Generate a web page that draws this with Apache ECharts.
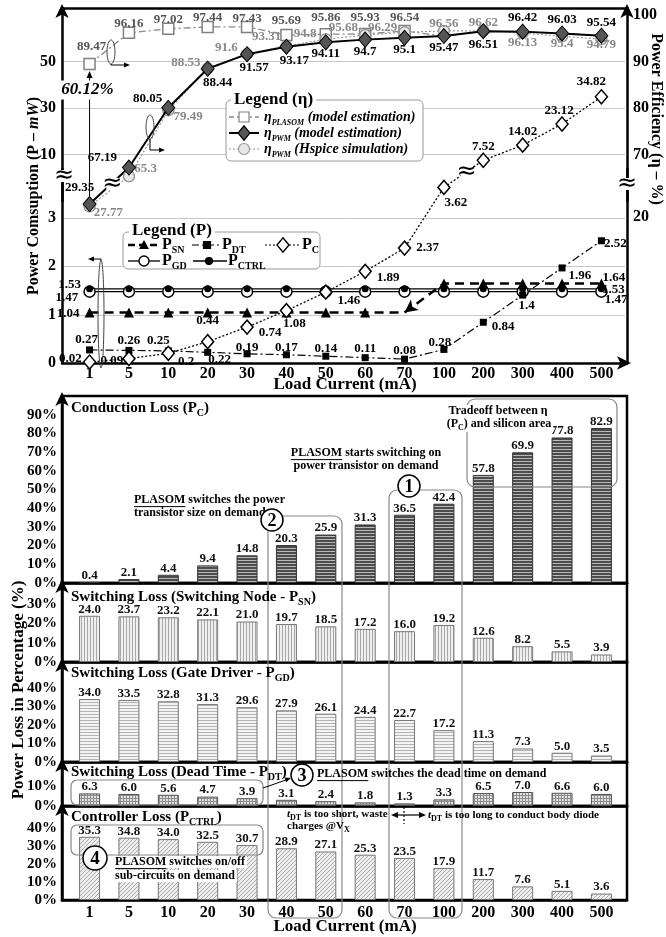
<!DOCTYPE html>
<html>
<head>
<meta charset="utf-8">
<script src="https://cdn.jsdelivr.net/npm/echarts@6/dist/echarts.min.js"></script>
<style>
  html, body { margin: 0; padding: 0; background: #fff; }
  #chart { width: 666px; height: 937px; }
</style>
</head>
<body>
<div id="chart"></div>
<script>
// ---------- data ----------
const loadCurrent = ['1', '5', '10', '20', '30', '40', '50', '60', '70', '100', '200', '300', '400', '500'];

// power consumption per block (mW)
const pSN   = [1.04, 1.04, 1.04, 1.04, 1.04, 1.04, 1.04, 1.04, 1.04, 1.64, 1.64, 1.64, 1.64, 1.64];
const pDT   = [0.27, 0.26, 0.25, 0.22, 0.19, 0.17, 0.14, 0.11, 0.08, 0.28, 0.84, 1.4, 1.96, 2.52];
const pC    = [0.02, 0.09, 0.2, 0.44, 0.74, 1.08, 1.46, 1.89, 2.37, 3.62, 7.52, 14.02, 23.12, 34.82];
const pGD   = [1.47, 1.47, 1.47, 1.47, 1.47, 1.47, 1.47, 1.47, 1.47, 1.47, 1.47, 1.47, 1.47, 1.47];
const pCTRL = [1.53, 1.53, 1.53, 1.53, 1.53, 1.53, 1.53, 1.53, 1.53, 1.53, 1.53, 1.53, 1.53, 1.53];

// power efficiency (%)
const etaPlasom = [89.47, 96.16, 97.02, 97.44, 97.43, 95.69, 95.86, 95.93, 96.54, 95.47, 96.51, 96.42, 96.03, 95.54];
const etaPwm    = [29.35, 67.19, 80.05, 88.44, 91.57, 93.17, 94.11, 94.7, 95.1, 95.47, 96.51, 96.42, 96.03, 95.54];
const etaHspice = [27.77, 65.3, 79.49, 88.53, 91.6, 93.31, 94.8, 95.68, 96.29, 96.56, 96.62, 96.13, 95.4, 94.79];
const plasomOwnPoints = 9; // above 70 mA PLASOM runs the PWM path

// power loss breakdown (%)
const lossPC   = [0.4, 2.1, 4.4, 9.4, 14.8, 20.3, 25.9, 31.3, 36.5, 42.4, 57.8, 69.9, 77.8, 82.9];
const lossSN   = [24.0, 23.7, 23.2, 22.1, 21.0, 19.7, 18.5, 17.2, 16.0, 19.2, 12.6, 8.2, 5.5, 3.9];
const lossGD   = [34.0, 33.5, 32.8, 31.3, 29.6, 27.9, 26.1, 24.4, 22.7, 17.2, 11.3, 7.3, 5.0, 3.5];
const lossDT   = [6.3, 6.0, 5.6, 4.7, 3.9, 3.1, 2.4, 1.8, 1.3, 3.3, 6.5, 7.0, 6.6, 6.0];
const lossCTRL = [35.3, 34.8, 34.0, 32.5, 30.7, 28.9, 27.1, 25.3, 23.5, 17.9, 11.7, 7.6, 5.1, 3.6];

// tick labels
const pLowTicks = [0, 1, 2, 3];
const pHighTicks = [10, 30, 50];
const etaHighTicks = [70, 80, 90, 100];
const etaLowTicks = [20];

// ---------- layout / style ----------
const FONT = '"Liberation Serif", "Times New Roman", serif';
const P_BREAK = 4;     // P values at or above this go to the upper (compressed) region
const ETA_BREAK = 60;  // efficiency values below this go to the lower region
const X_MIN = -0.7, X_MAX = 13.65;
const idx = loadCurrent.map((_, i) => i);

// upper region geometry: P (mW) and eta (%) share pixels, P = 10 + 2 * (eta - 70)
const UP_TOP = 8, UP_H = 193;
const UP_P_MIN = -10, UP_P_MAX = 73;
const UP_ETA_MIN = 60, UP_ETA_MAX = 101.5;
const LOW_TOP = 169, LOW_H = 194;

// label placement per point: [position, dx, dy]
const labelAt = {
  pSN:   {0: ['left', 0, 1], 13: ['right', -9, -6]},
  pCTRL: {0: ['left', 0, -4], 13: ['right', -8, 1]},
  pGD:   {0: ['left', 0, 6], 13: ['right', -8, 8]},
  pDT:   {0: ['top', -3, 5], 1: ['top', 0, 5], 2: ['top', -10, 5], 3: ['bottom', 12, -8], 4: ['top', 0, 9],
          5: ['top', 0, 8], 6: ['top', 0, 7], 7: ['top', 0, 6], 8: ['top', 0, 7], 9: ['top', -4, 8],
          10: ['right', 0, 4], 11: ['bottom', 4, -4], 12: ['right', -2, 8], 13: ['right', -6, 3]},
  pC:    {0: ['left', 4, -3], 1: ['left', 6, 2], 2: ['right', -2, 8], 3: ['top', 0, -2], 4: ['right', 0, 6],
          5: ['bottom', 8, -6], 6: ['right', 0, 8], 7: ['right', 0, 6], 8: ['right', 0, 0], 9: ['bottom', 12, -4],
          10: ['top', 0, 6], 11: ['top', 0, 6], 12: ['top', -3, 6], 13: ['top', -10, 4]},
  etaPwm: {0: ['top', -10, 3], 1: ['left', 0, -10], 2: ['left', 6, -9], 3: ['bottom', 10, -6], 4: ['bottom', 7, -6],
           5: ['bottom', 8, -6], 6: ['bottom', 0, -8], 7: ['bottom', 0, -8], 8: ['bottom', 0, -8], 9: ['bottom', 0, -8],
           10: ['bottom', 0, -6], 11: ['top', 0, 6], 12: ['top', 0, 6], 13: ['top', 0, 6]},
  etaHspice: {0: ['right', -7, 6], 1: ['right', -6, -8], 2: ['right', -6, 6], 3: ['left', 4, -6], 4: ['left', 2, -6],
              5: ['left', 6, -9], 6: ['left', 2, -6], 7: ['left', 4, -7], 8: ['left', 4, -5], 9: ['top', 0, 10],
              10: ['top', 0, 10], 11: ['bottom', 0, -8], 12: ['bottom', 0, -10], 13: ['bottom', 0, -12]},
  etaPlasom: {0: ['top', 2, 0], 1: ['top', 0, 9], 2: ['top', 0, 9], 3: ['top', 0, 9], 4: ['top', 0, 9],
              5: ['top', 0, 3], 6: ['top', 0, 1], 7: ['top', 0, 1], 8: ['top', 0, 4]}
};

function pattern(w, h, bg, draw) {
  const c = document.createElement('canvas');
  c.width = w; c.height = h;
  const g = c.getContext('2d');
  g.fillStyle = bg; g.fillRect(0, 0, w, h);
  draw(g);
  return { image: c, repeat: 'repeat' };
}
const fillPC   = pattern(4, 3, '#4c4c4c', g => { g.fillStyle = '#b8b8b8'; g.fillRect(0, 2, 4, 1); });
const fillSN   = pattern(3, 4, '#efefef', g => { g.fillStyle = '#a8a8a8'; g.fillRect(0, 0, 1, 4); });
const fillGD   = pattern(4, 3, '#f3f3f3', g => { g.fillStyle = '#b4b4b4'; g.fillRect(0, 0, 4, 1); });
const fillDT   = pattern(3, 3, '#e2e2e2', g => { g.fillStyle = '#8e8e8e'; g.fillRect(0, 0, 3, 1); g.fillRect(0, 0, 1, 3); });
const fillCTRL = pattern(4, 4, '#eeeeee', g => { g.fillStyle = '#ababab'; for (let i = 0; i < 4; i++) g.fillRect(3 - i, i, 1, 1); });

const lossPanels = [
  { data: lossPC,   max: 100,  ticks: [0, 10, 20, 30, 40, 50, 60, 70, 80, 90], fill: fillPC,   border: '#333', top: 396, height: 187 },
  { data: lossSN,   max: 41,   ticks: [0, 10, 20, 30],         fill: fillSN,   border: '#777', top: 583, height: 79 },
  { data: lossGD,   max: 54,   ticks: [0, 10, 20, 30, 40],     fill: fillGD,   border: '#777', top: 662, height: 100 },
  { data: lossDT,   max: 22,   ticks: [0, 10],                 fill: fillDT,   border: '#555', top: 762, height: 44 },
  { data: lossCTRL, max: 52.5, ticks: [0, 10, 20, 30, 40],     fill: fillCTRL, border: '#777', top: 806, height: 94 }
];

const tickFont = { fontFamily: FONT, fontWeight: 'bold', fontSize: 16, color: '#000' };
const arrowLine = (w) => ({ show: true, onZero: false, lineStyle: { color: '#000', width: w },
  symbol: ['none', 'arrow'], symbolSize: [10, 14], symbolOffset: [0, 4] });

// ---------- axes ----------
const xAxes = [];
const yAxes = [];
const grids = [];

function xAxisFor(gridIndex, extra) {
  return Object.assign({
    type: 'value', gridIndex, min: X_MIN, max: X_MAX,
    splitLine: { show: false }, axisTick: { show: false }, axisLabel: { show: false },
    axisLine: { show: true, onZero: false, lineStyle: { color: '#000', width: 2.5 } }
  }, extra || {});
}
function yAxisFor(gridIndex, position, min, max, interval, labels, extra) {
  const ax = {
    type: 'value', gridIndex, position, min, max,
    axisTick: { show: false },
    axisLabel: Object.assign({ customValues: labels, margin: 6 }, tickFont),
    axisLine: { show: true, onZero: false, lineStyle: { color: '#000', width: 2.5 } },
    splitLine: { show: false }
  };
  if (interval) ax.interval = interval;
  return Object.assign(ax, extra || {});
}

// top chart: upper (compressed) region and lower region
grids.push({ left: 62, right: 39, top: UP_TOP, height: UP_H, outerBoundsMode: 'none' });
grids.push({ left: 62, right: 39, top: LOW_TOP, height: LOW_H, outerBoundsMode: 'none' });
xAxes.push(xAxisFor(0, { position: 'top' }));
xAxes.push(xAxisFor(1, {
  position: 'bottom',
  axisLabel: Object.assign({ show: true, customValues: idx, margin: 3, formatter: v => loadCurrent[Math.round(v)] }, tickFont),
  axisLine: arrowLine(2.5)
}));
yAxes.push(yAxisFor(0, 'left', UP_P_MIN, UP_P_MAX, 20, pHighTicks, { axisLine: arrowLine(2.5) }));          // 0 P upper
yAxes.push(yAxisFor(0, 'right', UP_ETA_MIN, UP_ETA_MAX, 10, etaHighTicks, { axisLine: arrowLine(2.5) }));   // 1 eta upper
yAxes.push(yAxisFor(1, 'left', 0, 4, 1, pLowTicks, {}));                                                    // 2 P lower
yAxes.push(yAxisFor(1, 'right', -85, 54.6, 0, etaLowTicks, {}));                                            // 3 eta lower

// loss panels
const lossAxisStart = xAxes.length;
const lossYAxisStart = yAxes.length;
lossPanels.forEach((p, k) => {
  const gi = grids.length;
  grids.push({ left: 62, right: 39, top: p.top, height: p.height, outerBoundsMode: 'none',
    show: true, borderColor: '#000', borderWidth: 2.5, backgroundColor: 'transparent' });
  const last = k === lossPanels.length - 1;
  xAxes.push(xAxisFor(gi, last ? {
    axisLabel: Object.assign({ show: true, customValues: idx, margin: 5, formatter: v => loadCurrent[Math.round(v)] }, tickFont)
  } : {}));
  yAxes.push(yAxisFor(gi, 'left', 0, p.max, 10, p.ticks, {
    axisLabel: Object.assign({ customValues: p.ticks, margin: 5, formatter: v => v + '%' }, tickFont, { fontSize: 15 }),
    axisLine: arrowLine(2.5)
  }));
});

// ---------- series ----------
function lineSeries(values, keep, xi, yi, cfg) {
  const labels = cfg.labels || {};
  const data = [];
  values.forEach((v, i) => {
    if (v == null || !keep(v)) return;
    const item = { value: [i, v] };
    const spec = labels[i];
    if (spec && (cfg.labelUntil == null || i < cfg.labelUntil)) {
      item.label = { show: true, position: spec[0], offset: [spec[1], spec[2]], formatter: String(v) };
    }
    if (cfg.symbolUntil != null && i >= cfg.symbolUntil) item.symbol = 'none';
    if (cfg.itemOverride && cfg.itemOverride[i]) Object.assign(item, cfg.itemOverride[i]);
    data.push(item);
  });
  return {
    type: 'line', xAxisIndex: xi, yAxisIndex: yi, silent: true, animation: false, z: cfg.z || 2,
    symbol: cfg.symbol, symbolSize: cfg.symbolSize, showSymbol: true,
    itemStyle: cfg.itemStyle, lineStyle: cfg.lineStyle,
    label: { show: false, fontFamily: FONT, fontWeight: 'bold', fontSize: 13, color: cfg.labelColor || '#000' },
    emphasis: { disabled: true },
    data
  };
}
const below = lim => v => v < lim;
const atOrAbove = lim => v => v >= lim;

const styles = {
  pSN:   { symbol: 'triangle', symbolSize: 10, itemStyle: { color: '#000' }, lineStyle: { color: '#000', width: 2.5, type: [9, 6] } },
  pDT:   { symbol: 'rect', symbolSize: 7, itemStyle: { color: '#000' }, lineStyle: { color: '#000', width: 1.2, type: [8, 3, 2, 3] } },
  pC:    { symbol: 'diamond', symbolSize: [12, 14], itemStyle: { color: '#fff', borderColor: '#000', borderWidth: 1.5 }, lineStyle: { color: '#000', width: 1.3, type: [2, 2] }, z: 4 },
  pGD:   { symbol: 'circle', symbolSize: 11, itemStyle: { color: '#fff', borderColor: '#000', borderWidth: 1.5 }, lineStyle: { color: '#000', width: 1.3, type: 'solid' } },
  pCTRL: { symbol: 'circle', symbolSize: 7, itemStyle: { color: '#000' }, lineStyle: { color: '#000', width: 1.3, type: 'solid' } },
  plasom: { symbol: 'rect', symbolSize: 11, itemStyle: { color: '#fff', borderColor: '#808080', borderWidth: 1.5 }, lineStyle: { color: '#8a8a8a', width: 1.3, type: [7, 3, 2, 3] }, labelColor: '#555', z: 2 },
  pwm:   { symbol: 'diamond', symbolSize: [13, 15], itemStyle: { color: '#555', borderColor: '#000', borderWidth: 1 }, lineStyle: { color: '#000', width: 2, type: 'solid' }, z: 5 },
  hspice: { symbol: 'circle', symbolSize: 11, itemStyle: { color: '#e8e8e8', borderColor: '#999', borderWidth: 1.5 }, lineStyle: { color: '#9a9a9a', width: 1.2, type: [2, 2] }, labelColor: '#888', z: 3 }
};
const withLabels = (s, l, extra) => Object.assign({}, s, { labels: l }, extra || {});

const series = [
  // lower region (mW, eta below the break)
  lineSeries(pGD, below(P_BREAK), 1, 2, withLabels(styles.pGD, labelAt.pGD)),
  lineSeries(pCTRL, below(P_BREAK), 1, 2, withLabels(styles.pCTRL, labelAt.pCTRL)),
  lineSeries(pSN, below(P_BREAK), 1, 2, withLabels(styles.pSN, labelAt.pSN, {
    itemOverride: { 8: { symbol: 'arrow', symbolRotate: 127, symbolSize: [10, 13] } }
  })),
  lineSeries(pDT, below(P_BREAK), 1, 2, withLabels(styles.pDT, labelAt.pDT)),
  lineSeries(pC, below(P_BREAK), 1, 2, withLabels(styles.pC, labelAt.pC)),
  lineSeries(etaHspice, below(ETA_BREAK), 1, 3, withLabels(styles.hspice, labelAt.etaHspice)),
  lineSeries(etaPwm, below(ETA_BREAK), 1, 3, withLabels(styles.pwm, labelAt.etaPwm)),
  // upper region
  lineSeries(pC, atOrAbove(P_BREAK), 0, 0, withLabels(styles.pC, labelAt.pC)),
  lineSeries(etaPlasom, atOrAbove(ETA_BREAK), 0, 1, withLabels(styles.plasom, labelAt.etaPlasom, {
    symbolUntil: plasomOwnPoints, labelUntil: plasomOwnPoints
  })),
  lineSeries(etaHspice, atOrAbove(ETA_BREAK), 0, 1, withLabels(styles.hspice, labelAt.etaHspice)),
  lineSeries(etaPwm, atOrAbove(ETA_BREAK), 0, 1, withLabels(styles.pwm, labelAt.etaPwm))
];

lossPanels.forEach((p, k) => {
  series.push({
    type: 'bar', xAxisIndex: lossAxisStart + k, yAxisIndex: lossYAxisStart + k, silent: true, animation: false,
    barWidth: 21,
    itemStyle: { color: p.fill, borderColor: p.border, borderWidth: 1 },
    label: { show: true, position: 'top', distance: 0, fontFamily: FONT, fontWeight: 'bold', fontSize: 13, color: '#111',
      formatter: q => q.value[1].toFixed(1) },
    emphasis: { disabled: true },
    data: p.data.map((v, i) => [i, v])
  });
});

const chart = echarts.init(document.getElementById('chart'), null, { renderer: 'canvas' });
chart.setOption({
  animation: false,
  backgroundColor: '#fff',
  grid: grids, xAxis: xAxes, yAxis: yAxes, series
});

// ---------- annotations ----------
const measure = (() => {
  const ctx = document.createElement('canvas').getContext('2d');
  return (text, size, style) => { ctx.font = (style || '') + ' bold ' + size + 'px ' + FONT; return ctx.measureText(text).width; };
})();

const G = [];
function text(x, y, str, o) {
  o = o || {};
  const st = {
    text: str, x: 0, y: 0, fill: o.color || '#000',
    fontFamily: FONT, fontWeight: 'bold', fontSize: o.size || 13, fontStyle: o.italic ? 'italic' : 'normal',
    align: o.align || 'left', textAlign: o.align || 'left',
    verticalAlign: 'middle', textVerticalAlign: 'middle'
  };
  if (o.rich) st.rich = o.rich;
  if (o.bg) { st.backgroundColor = o.bg; st.padding = o.pad || [0, 2]; }
  G.push({ type: 'text', x, y, rotation: o.rotation || 0, z: o.z || 100, silent: true, style: st });
}
function line(x1, y1, x2, y2, o) {
  o = o || {};
  G.push({ type: 'line', z: o.z != null ? o.z : 99, silent: true, shape: { x1, y1, x2, y2 },
    style: { stroke: o.color || '#000', lineWidth: o.width || 1, lineDash: o.dash || null } });
}
function poly(points, o) {
  o = o || {};
  const open = o.closed === false;
  G.push({ type: open ? 'polyline' : 'polygon', z: o.z || 99, silent: true, shape: { points },
    style: { fill: open ? null : (o.fill || '#000'), stroke: o.stroke || (open ? '#000' : null), lineWidth: o.width || 1, lineDash: o.dash || null } });
}
function arrowHead(x, y, ang, len, wid, color) {
  len = len || 7; wid = wid || 6;
  const c = Math.cos(ang), s = Math.sin(ang);
  poly([[x, y], [x - len * c + wid / 2 * s, y - len * s - wid / 2 * c], [x - len * c - wid / 2 * s, y - len * s + wid / 2 * c]], { fill: color || '#000', z: 101 });
}
function rrect(x, y, w, h, r, o) {
  o = o || {};
  G.push({ type: 'rect', z: o.z || 98, silent: true, shape: { x, y, width: w, height: h, r },
    style: { fill: o.fill || null, stroke: o.stroke || '#888', lineWidth: o.width || 1.2 } });
}
function circle(cx, cy, r, o) {
  o = o || {};
  G.push({ type: 'circle', z: o.z || 100, silent: true, shape: { cx, cy, r },
    style: { fill: o.fill || '#fff', stroke: o.stroke || '#000', lineWidth: o.width || 1.5 } });
}
function ellipse(cx, cy, rx, ry) {
  G.push({ type: 'ellipse', z: 99, silent: true, shape: { cx, cy, rx, ry }, style: { fill: null, stroke: '#444', lineWidth: 1 } });
}
function breakMark(x, y) {
  G.push({ type: 'rect', z: 102, silent: true, shape: { x: x - 6, y: y - 6, width: 12, height: 12 }, style: { fill: '#fff' } });
  G.push({ type: 'text', x, y, z: 103, silent: true, style: { text: '≈', x: 0, y: 0, fill: '#000', fontFamily: 'DejaVu Sans', fontSize: 24,
    align: 'center', textAlign: 'center', verticalAlign: 'middle', textVerticalAlign: 'middle' } });
}
function underlineWord(x, y, word, size) {
  line(x, y + size * 0.55, x + measure(word, size), y + size * 0.55, { width: 1, z: 102 });
}
function plasomText(x, y, rest, size, align, bg) {
  const full = 'PLASOM' + rest;
  const w = measure(full, size);
  const left = align === 'center' ? x - w / 2 : x;
  text(left, y, full, { size, bg });
  underlineWord(left + (bg ? 2 : 0), y, 'PLASOM', size);
}
function symbolAt(kind, x, y, o) {
  o = o || {};
  const r = o.r || 5;
  if (kind === 'rect') poly([[x - r, y - r], [x + r, y - r], [x + r, y + r], [x - r, y + r]], { fill: o.fill, stroke: o.stroke, width: o.width || 1.2, z: 101 });
  if (kind === 'diamond') poly([[x, y - r * 1.2], [x + r, y], [x, y + r * 1.2], [x - r, y]], { fill: o.fill, stroke: o.stroke, width: o.width || 1.2, z: 101 });
  if (kind === 'triangle') poly([[x, y - r], [x + r, y + r * 0.8], [x - r, y + r * 0.8]], { fill: o.fill, z: 101 });
  if (kind === 'circle') circle(x, y, r, { fill: o.fill, stroke: o.stroke, width: o.width || 1.2, z: 101 });
}

// guide lines at the labelled P levels, placed through the axes' own scales
function guides(xi, yi, values) {
  values.forEach(v => {
    const a = chart.convertToPixel({ xAxisIndex: xi, yAxisIndex: yi }, [X_MIN, v]);
    const b = chart.convertToPixel({ xAxisIndex: xi, yAxisIndex: yi }, [X_MAX, v]);
    if (a && b) line(a[0] + 2, Math.round(a[1]) + 0.5, b[0] - 2, Math.round(b[1]) + 0.5, { color: '#c8c8c8', width: 1, z: 0 });
  });
}
guides(0, 0, pHighTicks);
guides(1, 2, pLowTicks.filter(v => v > 0));

const sub = size => ({ fontFamily: FONT, fontWeight: 'bold', fontSize: size, lineHeight: 10, verticalAlign: 'bottom' });
const richP = {
  b: { fontFamily: FONT, fontWeight: 'bold', fontSize: 16, lineHeight: 20 },
  s: sub(10)
};
const richEta = {
  i: { fontFamily: FONT, fontWeight: 'bold', fontStyle: 'italic', fontSize: 14, lineHeight: 20 },
  s: Object.assign(sub(8), { fontStyle: 'italic' })
};

// axis names
text(34, 196, '{b|Power Comsuption (P – }{i|mW}{b|)}', { rotation: Math.PI / 2, align: 'center',
  rich: { b: { fontFamily: FONT, fontWeight: 'bold', fontSize: 16 }, i: { fontFamily: FONT, fontWeight: 'bold', fontStyle: 'italic', fontSize: 16 } } });
text(656, 119, 'Power Efficiency (η – %)', { size: 16, rotation: -Math.PI / 2, align: 'center' });
text(345, 385, 'Load Current (mA)', { size: 17, align: 'center' });
text(19, 690, 'Power Loss in Percentage (%)', { size: 17, rotation: Math.PI / 2, align: 'center' });
text(345, 927, 'Load Current (mA)', { size: 17, align: 'center' });

// broken-axis marks
breakMark(64, 176);
breakMark(627, 184);

// legend (eta)
rrect(226, 100, 197, 61, 5, { stroke: '#9a9a9a', width: 1, fill: '#fff', z: 95 });
text(231, 100, 'Legend (η)', { size: 17, bg: '#fff', pad: [0, 3] });
line(229, 117, 259, 117, { color: '#8a8a8a', width: 1.3, dash: [5, 3, 2, 3], z: 100 });
symbolAt('rect', 244, 117, { r: 5, fill: '#fff', stroke: '#808080' });
text(264, 117, '{i|η}{s|PLASOM}{i| (model estimation)}', { rich: richEta });
line(229, 133, 259, 133, { color: '#000', width: 2, z: 100 });
symbolAt('diamond', 244, 133, { r: 6, fill: '#555', stroke: '#000' });
text(264, 133, '{i|η}{s|PWM}{i| (model estimation)}', { rich: richEta });
line(229, 149, 259, 149, { color: '#9a9a9a', width: 1.2, dash: [2, 2], z: 100 });
symbolAt('circle', 244, 149, { r: 5.5, fill: '#e8e8e8', stroke: '#999' });
text(264, 149, '{i|η}{s|PWM}{i| (Hspice simulation)}', { rich: richEta });

// legend (P)
rrect(123, 232, 197, 37, 5, { stroke: '#9a9a9a', width: 1, fill: '#fff', z: 95 });
text(129, 231, 'Legend (P)', { size: 17, bg: '#fff', pad: [0, 3] });
line(128, 245, 160, 245, { width: 2.5, dash: [7, 4], z: 100 });
symbolAt('triangle', 144, 245, { r: 5, fill: '#000' });
text(162, 245, '{b|P}{s|SN}', { rich: richP });
line(192, 245, 221, 245, { width: 1.2, dash: [7, 3, 2, 3], z: 100 });
symbolAt('rect', 207, 245, { r: 3.5, fill: '#000', stroke: '#000' });
text(222, 245, '{b|P}{s|DT}', { rich: richP });
line(265, 245, 300, 245, { width: 1.2, dash: [2, 2], z: 100 });
symbolAt('diamond', 283, 245, { r: 6, fill: '#fff', stroke: '#000', width: 1.4 });
text(302, 245, '{b|P}{s|C}', { rich: richP });
line(128, 261, 160, 261, { width: 1.3, z: 100 });
symbolAt('circle', 144, 261, { r: 5, fill: '#fff', stroke: '#000', width: 1.4 });
text(162, 261, '{b|P}{s|GD}', { rich: richP });
line(193, 261, 227, 261, { width: 1.3, z: 100 });
symbolAt('circle', 209, 261, { r: 3.5, fill: '#000', stroke: '#000' });
text(228, 261, '{b|P}{s|CTRL}', { rich: richP });

// axis pointers (which axis a curve belongs to)
ellipse(111, 52, 4, 12);
poly([[111, 64], [111, 65], [125, 65]], { closed: false, width: 1 });
arrowHead(130, 65, 0, 6, 5);
ellipse(150, 127, 4, 12);
poly([[150, 139], [150, 150], [160, 150]], { closed: false, width: 1 });
arrowHead(165, 150, 0, 6, 5);
ellipse(101, 314, 3, 54);
poly([[101, 260], [101, 259], [94, 259]], { closed: false, width: 1 });
arrowHead(88, 259, Math.PI, 6, 5);

// curves crossing the axis break: join the two regions through the chart's own scales
const toLow = (i, v, yi) => chart.convertToPixel({ xAxisIndex: 1, yAxisIndex: yi }, [i, v]);
const toHigh = (i, v, yi) => chart.convertToPixel({ xAxisIndex: 0, yAxisIndex: yi }, [i, v]);
function bridge(values, lowKeep, yLow, yHigh, lineStyle, mark) {
  let li = -1, hi = -1;
  values.forEach((v, i) => { if (lowKeep(v)) li = i; else if (hi < 0 && li >= 0) hi = i; });
  if (li < 0 || hi < 0) return;
  const a = toLow(li, values[li], yLow), b = toHigh(hi, values[hi], yHigh);
  if (!a || !b) return;
  line(a[0], a[1], b[0], b[1], { color: lineStyle.color, width: lineStyle.width, dash: Array.isArray(lineStyle.type) ? lineStyle.type : null, z: 1 });
  if (mark) breakMark((a[0] + b[0]) / 2 + 3, (a[1] + b[1]) / 2 - 2);
}
bridge(pC, below(P_BREAK), 2, 0, styles.pC.lineStyle, true);
bridge(etaHspice, below(ETA_BREAK), 3, 1, styles.hspice.lineStyle, false);
bridge(etaPwm, below(ETA_BREAK), 3, 1, styles.pwm.lineStyle, true);

// 60.12 % efficiency gain at 1 mA
{
  const from = toLow(0, etaPwm[0], 3), to = toHigh(0, etaPlasom[0], 1);
  if (from && to) {
    line(from[0], from[1] - 8, to[0], to[1] + 14, { width: 1 });
    arrowHead(to[0], to[1] + 7, -Math.PI / 2, 7, 6);
    text(from[0] - 2, 90, (etaPlasom[0] - etaPwm[0]).toFixed(2) + '%', { size: 17, italic: true, align: 'center', bg: '#fff', pad: [1, 1] });
  }
}

// loss panel titles
const richT = { b: { fontFamily: FONT, fontWeight: 'bold', fontSize: 15, lineHeight: 20 }, s: sub(10) };
text(71, 408, '{b|Conduction Loss (P}{s|C}{b|)}', { rich: richT });
text(71, 597, '{b|Switching Loss (Switching Node - P}{s|SN}{b|)}', { rich: richT });
text(71, 673, '{b|Switching Loss (Gate Driver - P}{s|GD}{b|)}', { rich: richT });
text(71, 772, '{b|Switching Loss (Dead Time - P}{s|DT}{b|)}', { rich: richT });
text(71, 817, '{b|Controller Loss (P}{s|CTRL}{b|)}', { rich: richT });

// loss panel call-outs
const richA = { b: { fontFamily: FONT, fontWeight: 'bold', fontSize: 12, lineHeight: 16 }, s: Object.assign(sub(8), { lineHeight: 8 }),
  i: { fontFamily: FONT, fontWeight: 'bold', fontStyle: 'italic', fontSize: 11, lineHeight: 16 },
  c: { fontFamily: FONT, fontWeight: 'bold', fontSize: 11, lineHeight: 16 } };
rrect(467, 399, 150, 88, 8);
text(498, 411, 'Tradeoff between η', { size: 12, align: 'center', bg: '#fff' });
text(499, 424, '{b|(P}{s|C}{b|) and silicon area}', { rich: richA, align: 'center', bg: '#fff' });

plasomText(366, 453, ' starts switching on', 12, 'center');
text(366, 466, 'power transistor on demand', { size: 12, align: 'center' });
rrect(389, 490, 73, 428, 8);
circle(409, 486, 11);
text(409, 487, '1', { size: 18, align: 'center' });

plasomText(134, 500, ' switches the power', 12, 'left');
text(134, 513, 'transistor size on demand', { size: 12 });
rrect(268, 516, 74, 402, 8);
circle(272, 520, 11);
text(272, 521, '2', { size: 18, align: 'center' });

rrect(71, 780, 192, 25, 6);
line(263, 788, 286, 780, { width: 1 });
arrowHead(291, 778, -0.33, 6, 5);
circle(302, 775, 11);
text(302, 776, '3', { size: 18, align: 'center' });
plasomText(317, 774, ' switches the dead time on demand', 12, 'left');

rrect(71, 825, 192, 30, 6);
circle(95, 858, 12);
text(95, 859, '4', { size: 19, align: 'center' });
plasomText(113, 862, ' switches on/off', 12, 'left', '#fff');
text(113, 876, 'sub-circuits on demand', { size: 12, bg: '#fff' });

text(287, 814, '{i|t}{s|DT}{c| is too short, waste}', { rich: richA });
text(287, 826, '{c|charges @V}{s|X}', { rich: richA });
line(396, 815, 421, 815, { width: 1.2 });
arrowHead(391, 815, Math.PI, 7, 6);
arrowHead(426, 815, 0, 7, 6);
line(404, 807, 404, 824, { width: 1.2, dash: [2, 2] });
text(428, 815, '{i|t}{s|DT}{c| is too long to conduct body diode}', { rich: richA });

chart.setOption({ graphic: { elements: G } });
</script>
</body>
</html>
